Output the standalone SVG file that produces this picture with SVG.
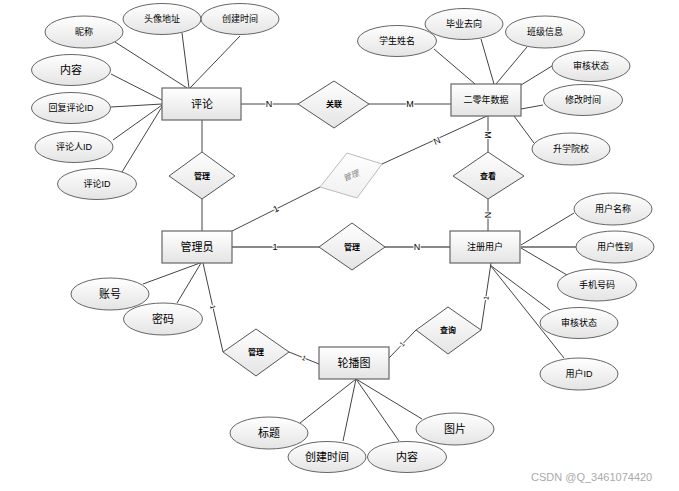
<svg xmlns="http://www.w3.org/2000/svg" width="679" height="491" viewBox="0 0 679 491">
<defs>
<linearGradient id="g" x1="0" y1="0" x2="0" y2="1">
<stop offset="0" stop-color="#ffffff"/>
<stop offset="1" stop-color="#e4e4e4"/>
</linearGradient>
<linearGradient id="gf" x1="0" y1="0" x2="0" y2="1">
<stop offset="0" stop-color="#ffffff"/>
<stop offset="1" stop-color="#f0f0f0"/>
</linearGradient>
</defs>
<style>
text{font-family:"Liberation Sans","Noto Sans CJK SC",sans-serif;fill:#000;text-anchor:middle;dominant-baseline:central}
.ent rect{fill:url(#g);stroke:#666;stroke-width:1.2}
.att ellipse{fill:url(#g);stroke:#666;stroke-width:1}
.rel polygon{fill:url(#g);stroke:#555;stroke-width:1}
.faded polygon{fill:url(#gf);stroke:#bbb;stroke-width:1}
.faded text{fill:#888;font-size:8px;font-style:italic}
.e{font-size:11px}
.a{font-size:9px}
.ab{font-size:11px}
.r{font-size:8px;font-weight:bold}
.lbl{font-size:9px;paint-order:stroke;stroke:#fff;stroke-width:2px}
.tk{font-size:7px}
#connectors line{stroke:#444;stroke-width:1}
#connectors line.thick{stroke:#888;stroke-width:2}
.wm{font-size:11px;fill:#aaa;text-anchor:start}
</style>

<g id="connectors">
<!-- 评论 attributes -->
<line x1="115" y1="42" x2="187" y2="88"/>
<line x1="182" y1="33" x2="189" y2="88"/>
<line x1="240" y1="36" x2="190" y2="88"/>
<line x1="111" y1="74" x2="162" y2="100"/>
<line x1="111" y1="107" x2="162" y2="104"/>
<line x1="113" y1="140" x2="162" y2="105"/>
<line x1="122" y1="172" x2="163" y2="105"/>
<!-- 二零年数据 attributes -->
<line x1="434" y1="49" x2="475" y2="84"/>
<line x1="481" y1="39" x2="494" y2="84"/>
<line x1="527" y1="47" x2="496" y2="84"/>
<line x1="552" y1="66" x2="521" y2="85"/>
<line x1="543" y1="105" x2="521" y2="109"/>
<line x1="534" y1="143" x2="514" y2="116"/>
<!-- 注册用户 attributes -->
<line x1="521" y1="245" x2="574" y2="213"/>
<line class="thick" x1="521" y1="247" x2="576" y2="247"/>
<line x1="521" y1="248" x2="567" y2="275"/>
<line x1="490" y1="265" x2="550" y2="310"/>
<line x1="490" y1="265" x2="564" y2="358"/>
<!-- 管理员 attributes -->
<line x1="143" y1="284" x2="200" y2="263"/>
<line x1="177" y1="303" x2="201" y2="263"/>
<!-- 轮播图 attributes -->
<line x1="356" y1="379" x2="300" y2="423"/>
<line x1="356" y1="379" x2="343" y2="441"/>
<line x1="356" y1="379" x2="399" y2="441"/>
<line x1="356" y1="379" x2="422" y2="419"/>
<!-- relationships -->
<line x1="241" y1="104" x2="298" y2="104"/>
<line x1="369" y1="104" x2="451" y2="104"/>
<line x1="202" y1="120" x2="202" y2="152"/>
<line x1="202" y1="199" x2="202" y2="231"/>
<line x1="488" y1="116" x2="488" y2="152"/>
<line x1="488" y1="199" x2="488" y2="231"/>
<line x1="232" y1="231" x2="320" y2="187"/>
<line x1="382" y1="164" x2="487" y2="116"/>
<line class="thick" x1="232" y1="247" x2="319" y2="247"/>
<line class="thick" x1="384" y1="247" x2="450" y2="247"/>
<line x1="203" y1="263" x2="223" y2="352"/>
<line x1="289" y1="352" x2="319" y2="364"/>
<line x1="389" y1="358" x2="416" y2="330"/>
<line x1="481" y1="330" x2="491" y2="263"/>
<!-- cardinality labels -->
<text class="lbl" x="269" y="104">N</text>
<text class="lbl" x="410" y="104">M</text>
<text class="lbl" transform="translate(488,135) rotate(90)">M</text>
<text class="lbl" transform="translate(488,215) rotate(90)">N</text>
<text class="lbl" transform="translate(276,209) rotate(-26.6)">1</text>
<text class="lbl" transform="translate(437,141) rotate(-24.3)">N</text>
<text class="lbl" x="275" y="247">1</text>
<text class="lbl" x="417" y="247">N</text>
<text class="lbl tk" transform="translate(213,307) rotate(77)">1</text>
<text class="lbl tk" transform="translate(304,358) rotate(22)">1</text>
<text class="lbl tk" transform="translate(402,344) rotate(-46)">1</text>
<text class="lbl tk" transform="translate(486,298) rotate(-81)">1</text>
</g>

<!-- entities -->
<g id="ent-pinglun" class="ent"><rect x="162" y="88" width="79" height="32"/><text class="e" x="202" y="104">评论</text></g>
<g id="ent-data" class="ent"><rect x="451" y="84" width="70" height="32"/><text class="a" x="486" y="100">二零年数据</text></g>
<g id="ent-admin" class="ent"><rect x="162" y="231" width="70" height="32"/><text class="e" x="197" y="247">管理员</text></g>
<g id="ent-user" class="ent"><rect x="450" y="231" width="70" height="32"/><text class="a" x="485" y="247">注册用户</text></g>
<g id="ent-carousel" class="ent"><rect x="319" y="347" width="70" height="32"/><text class="e" x="354" y="363">轮播图</text></g>

<!-- relationships -->
<g id="rel-manage1" class="rel"><polygon points="202,152 235,176 202,199 169,176"/><text class="r" x="202" y="176">管理</text></g>
<g id="rel-link" class="rel"><polygon points="334,81 369,104 334,128 298,104"/><text class="r" x="334" y="104">关联</text></g>
<g id="rel-view" class="rel"><polygon points="488,152 524,176 488,199 453,176"/><text class="r" x="488" y="176">查看</text></g>
<g id="rel-manage-faded" class="faded"><polygon points="320,187 347,153 382,164 357,198"/><text transform="translate(351,176) rotate(-22)">管理</text></g>
<g id="rel-manage2" class="rel"><polygon points="352,223 385,247 352,270 319,247"/><text class="r" x="352" y="247">管理</text></g>
<g id="rel-manage3" class="rel"><polygon points="256,329 289,352 256,376 223,352"/><text class="r" x="256" y="352">管理</text></g>
<g id="rel-query" class="rel"><polygon points="448,307 481,330 448,354 416,330"/><text class="r" x="448" y="330">查询</text></g>

<!-- attributes of 评论 -->
<g id="att-nick" class="att"><ellipse cx="84" cy="32" rx="39" ry="16"/><text class="a" x="84" y="32">昵称</text></g>
<g id="att-avatar" class="att"><ellipse cx="162" cy="19" rx="39" ry="15.5"/><text class="a" x="162" y="19">头像地址</text></g>
<g id="att-ctime1" class="att"><ellipse cx="240" cy="19" rx="39" ry="15.5"/><text class="a" x="240" y="19">创建时间</text></g>
<g id="att-content1" class="att"><ellipse cx="71" cy="70" rx="39.5" ry="15.5"/><text class="ab" x="71" y="70">内容</text></g>
<g id="att-replyid" class="att"><ellipse cx="71" cy="108" rx="39.5" ry="15.5"/><text class="a" x="71" y="108">回复评论ID</text></g>
<g id="att-commenter" class="att"><ellipse cx="74" cy="147" rx="39" ry="15.5"/><text class="a" x="74" y="147">评论人ID</text></g>
<g id="att-commentid" class="att"><ellipse cx="97" cy="184" rx="39.5" ry="15.5"/><text class="a" x="97" y="184">评论ID</text></g>

<!-- attributes of 二零年数据 -->
<g id="att-stuname" class="att"><ellipse cx="397" cy="41" rx="39.5" ry="15.5"/><text class="a" x="397" y="41">学生姓名</text></g>
<g id="att-dest" class="att"><ellipse cx="464" cy="24" rx="39" ry="15.5"/><text class="a" x="464" y="24">毕业去向</text></g>
<g id="att-class" class="att"><ellipse cx="545" cy="32" rx="39.5" ry="16"/><text class="a" x="545" y="32">班级信息</text></g>
<g id="att-audit1" class="att"><ellipse cx="591" cy="66" rx="39" ry="15.5"/><text class="a" x="591" y="66">审核状态</text></g>
<g id="att-mtime" class="att"><ellipse cx="583" cy="100" rx="39.5" ry="15.5"/><text class="a" x="583" y="100">修改时间</text></g>
<g id="att-school" class="att"><ellipse cx="571" cy="149" rx="39" ry="16"/><text class="a" x="571" y="149">升学院校</text></g>

<!-- attributes of 注册用户 -->
<g id="att-uname" class="att"><ellipse cx="613" cy="209" rx="39" ry="16"/><text class="a" x="613" y="209">用户名称</text></g>
<g id="att-gender" class="att"><ellipse cx="615" cy="247" rx="39" ry="16"/><text class="a" x="615" y="247">用户性别</text></g>
<g id="att-phone" class="att"><ellipse cx="597" cy="285" rx="39.5" ry="16"/><text class="a" x="597" y="285">手机号码</text></g>
<g id="att-audit2" class="att"><ellipse cx="579" cy="323" rx="39" ry="15.5"/><text class="a" x="579" y="323">审核状态</text></g>
<g id="att-uid" class="att"><ellipse cx="579" cy="374" rx="39" ry="16"/><text class="a" x="579" y="374">用户ID</text></g>

<!-- attributes of 管理员 -->
<g id="att-account" class="att"><ellipse cx="110" cy="294" rx="39" ry="16"/><text class="ab" x="110" y="294">账号</text></g>
<g id="att-pwd" class="att"><ellipse cx="163" cy="319" rx="39.5" ry="16"/><text class="ab" x="163" y="319">密码</text></g>

<!-- attributes of 轮播图 -->
<g id="att-title" class="att"><ellipse cx="269" cy="433" rx="39" ry="16"/><text class="ab" x="269" y="433">标题</text></g>
<g id="att-ctime2" class="att"><ellipse cx="327" cy="457" rx="39" ry="15.5"/><text class="ab" x="327" y="457">创建时间</text></g>
<g id="att-content2" class="att"><ellipse cx="407" cy="457" rx="39.5" ry="15.5"/><text class="ab" x="407" y="457">内容</text></g>
<g id="att-pic" class="att"><ellipse cx="455" cy="429" rx="39" ry="16"/><text class="ab" x="455" y="429">图片</text></g>

<text class="wm" x="531" y="477">CSDN @Q_3461074420</text>
</svg>
